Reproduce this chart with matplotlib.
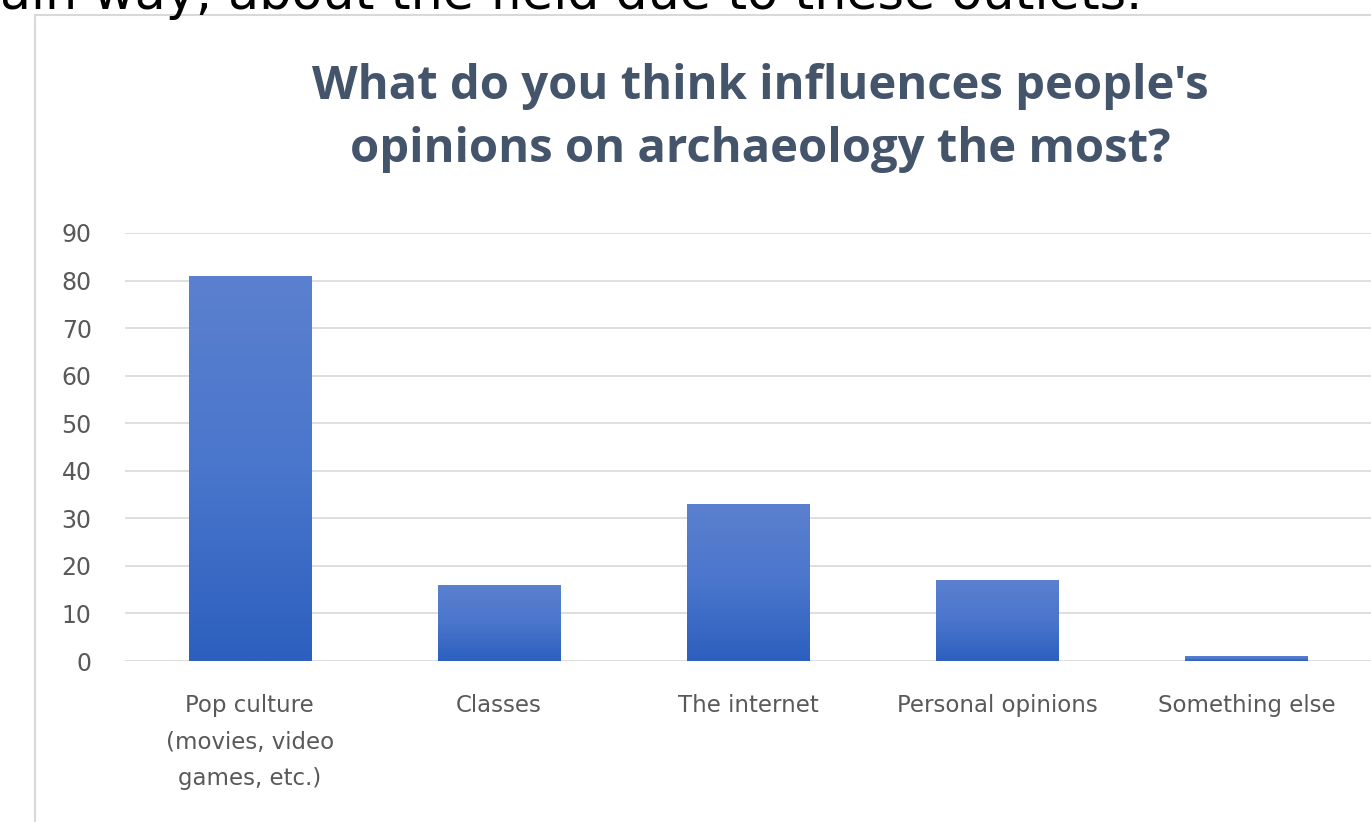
import numpy as np
import matplotlib
matplotlib.use("Agg")
import matplotlib.pyplot as plt
from matplotlib.colors import LinearSegmentedColormap
from matplotlib.lines import Line2D

# Data
categories = ["Pop culture\n(movies, video\ngames, etc.)", "Classes", "The internet",
              "Personal opinions", "Something else"]
values = [81, 16, 33, 17, 1]
yticks = list(range(0, 100, 10))

title = "What do you think influences people's\nopinions on archaeology the most?"
cut_text = "ain way, about the field due to these outlets."

text_gray = "#595959"
grid_gray = "#d9d9d9"

fig = plt.figure(figsize=(13.71, 8.22), dpi=100)
fig.patch.set_facecolor("white")

# text from the page above the chart, cut off at the top edge like in the screenshot
fig.text(0.0, 1 - 9.5 / 822, cut_text, fontsize=36.5, color="black",
         family="DejaVu Sans", ha="left", va="baseline")

# border of the chart panel
fig.add_artist(Line2D([35 / 1371, 35 / 1371], [0, 1 - 15 / 822],
                      transform=fig.transFigure, color=grid_gray, lw=1.5))
fig.add_artist(Line2D([35 / 1371, 1], [1 - 15 / 822, 1 - 15 / 822],
                      transform=fig.transFigure, color=grid_gray, lw=1.5))

ax = fig.add_axes([125 / 1371, 161 / 822, 1 - 125 / 1371, 428 / 822])

x = np.arange(len(categories))
bars = ax.bar(x, values, width=0.49, color="#4472c4", zorder=2)

# vertical gradient fill like the Excel bars
cmap = LinearSegmentedColormap.from_list("bar", ["#2c5fbf", "#4a76cc", "#5b80cf"])
grad = np.linspace(0, 1, 256).reshape(-1, 1)
for b in bars:
    x0, y0 = b.get_x(), b.get_y()
    w, h = b.get_width(), b.get_height()
    im = ax.imshow(grad, cmap=cmap, extent=[x0, x0 + w, y0, y0 + h],
                   origin="lower", aspect="auto", zorder=3)
    im.set_clip_path(b)
ax.set_xlim(-0.5, len(categories) - 0.5)
ax.set_ylim(0, 90)

ax.set_yticks(yticks)
ax.yaxis.grid(True, color=grid_gray, lw=1.2, zorder=0)
ax.set_axisbelow(True)
for s in ax.spines.values():
    s.set_visible(False)
ax.tick_params(axis="both", length=0, labelcolor=text_gray)
ax.tick_params(axis="y", pad=24, labelsize=17)
ax.tick_params(axis="x", pad=24, labelsize=16.5)
ax.set_xticks(x)
ax.set_xticklabels(categories, linespacing=1.75)

fig.text(760 / 1371, 1 - 118 / 822, title, fontsize=34, fontweight="bold",
         color="#44546a", ha="center", va="center", linespacing=1.47,
         family="Open Sans")

fig.savefig("out.png", dpi=100)
